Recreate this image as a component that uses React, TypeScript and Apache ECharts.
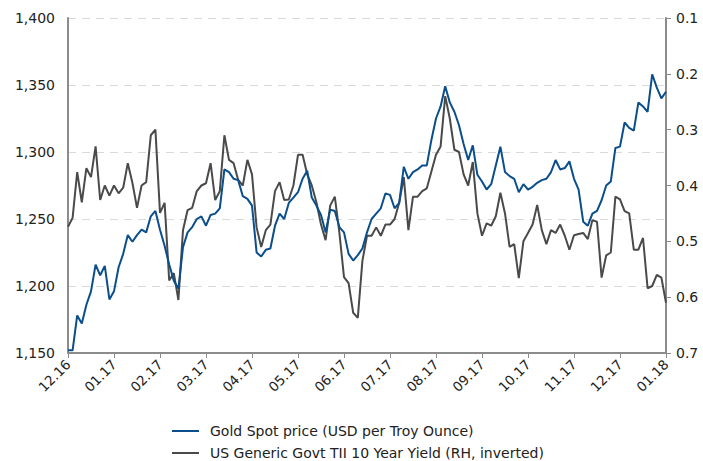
import React, { useEffect, useRef } from "react";
import * as echarts from "echarts";

const tickLabels = ["12.16", "01.17", "02.17", "03.17", "04.17", "05.17", "06.17", "07.17", "08.17", "09.17", "10.17", "11.17", "12.17", "01.18"];
const pointsPerMonth = 10;

const goldSeries = [
  1152, 1152, 1178, 1172, 1186, 1196, 1216, 1208, 1215, 1190,
  1196, 1214, 1224, 1238, 1233, 1238, 1242, 1240, 1252, 1256,
  1242, 1230, 1216, 1204, 1198, 1229, 1240, 1244, 1250, 1252,
  1245, 1253, 1254, 1258, 1287, 1285, 1280, 1279, 1267, 1265,
  1260, 1225, 1222, 1227, 1228, 1245, 1254, 1250, 1262, 1266,
  1270, 1280, 1286, 1266, 1260, 1253, 1240, 1257, 1256, 1244,
  1240, 1224, 1219, 1223, 1228, 1240, 1250, 1254, 1258, 1269,
  1268, 1258, 1262, 1289, 1280, 1285, 1287, 1290, 1290, 1309,
  1325, 1334, 1349, 1337, 1330, 1320, 1306, 1294, 1305, 1283,
  1278, 1272, 1276, 1290, 1304, 1285, 1282, 1280, 1270, 1276,
  1272, 1274, 1277, 1279, 1280, 1285, 1294, 1287, 1288, 1293,
  1280, 1272, 1248, 1245, 1254, 1256, 1264, 1275, 1278, 1303,
  1304, 1322, 1318, 1316, 1337, 1334, 1330, 1358, 1348, 1340,
  1345,
];

const yieldSeries = [
  0.474, 0.458, 0.376, 0.43, 0.369, 0.385, 0.33, 0.426, 0.4, 0.418,
  0.4, 0.414, 0.404, 0.36, 0.395, 0.44, 0.4, 0.394, 0.31, 0.3,
  0.449, 0.431, 0.57, 0.557, 0.605, 0.48, 0.444, 0.44, 0.41, 0.4,
  0.396, 0.36, 0.426, 0.41, 0.31, 0.354, 0.36, 0.39, 0.4, 0.354,
  0.38, 0.475, 0.51, 0.48, 0.47, 0.41, 0.394, 0.426, 0.425, 0.4,
  0.345, 0.345, 0.38, 0.4, 0.43, 0.47, 0.498, 0.436, 0.42, 0.485,
  0.564, 0.575, 0.628, 0.637, 0.535, 0.49, 0.49, 0.475, 0.49, 0.47,
  0.47, 0.46, 0.431, 0.385, 0.48, 0.42, 0.42, 0.41, 0.405, 0.375,
  0.345, 0.33, 0.24, 0.28, 0.336, 0.34, 0.38, 0.4, 0.358, 0.45,
  0.49, 0.468, 0.472, 0.455, 0.413, 0.45, 0.51, 0.505, 0.566, 0.5,
  0.485, 0.47, 0.435, 0.48, 0.505, 0.48, 0.485, 0.47, 0.49, 0.515,
  0.489, 0.487, 0.485, 0.496, 0.462, 0.465, 0.565, 0.525, 0.52, 0.42,
  0.425, 0.446, 0.45, 0.515, 0.515, 0.494, 0.584, 0.58, 0.56, 0.565,
  0.61,
];

const seriesNames = ["Gold Spot price (USD per Troy Ounce)", "US Generic Govt TII 10 Year Yield (RH, inverted)"];

const categories = goldSeries.map((_, i) => String(i));

const FONT = "DejaVu Sans";
const AXIS_COLOR = "#8c8c8c";
const TEXT_COLOR = "#222";
const GOLD_COLOR = "#0a4e8c";
const YIELD_COLOR = "#4a4a4a";

export default function App() {
  const ref = useRef<HTMLDivElement>(null);
  useEffect(() => {
    if (!ref.current) return;
    const chart = echarts.init(ref.current, undefined, { renderer: "svg" });
    const isTick = (index: number) => index % pointsPerMonth === 0;
    const legendBase = {
      orient: "horizontal",
      left: 172,
      itemWidth: 27,
      itemHeight: 14,
      padding: 0,
      textStyle: { fontFamily: FONT, fontSize: 14, color: TEXT_COLOR, padding: [0, 0, 0, 6] },
    };
    chart.setOption({
      animation: false,
      textStyle: { fontFamily: FONT },
      grid: { left: 68, right: 37, top: 18, bottom: 108, containLabel: false },
      legend: [
        { ...legendBase, top: 424, data: [{ name: seriesNames[0], icon: "path://M0,6 L27,6 L27,8 L0,8 Z" }] },
        { ...legendBase, top: 446, data: [{ name: seriesNames[1], icon: "path://M0,6 L27,6 L27,8 L0,8 Z" }] },
      ],
      xAxis: {
        type: "category",
        data: categories,
        boundaryGap: false,
        axisLine: { show: true, lineStyle: { color: AXIS_COLOR, width: 2 } },
        axisTick: { show: true, interval: isTick, length: 5, lineStyle: { color: AXIS_COLOR, width: 1 } },
        axisLabel: {
          interval: isTick,
          rotate: 45,
          margin: 9,
          fontFamily: FONT,
          fontSize: 13.5,
          color: TEXT_COLOR,
          formatter: (_v: string, idx: number) => tickLabels[Math.round(idx / pointsPerMonth)] ?? "",
        },
        splitLine: { show: false },
      },
      yAxis: [
        {
          type: "value",
          min: 1150,
          max: 1400,
          interval: 50,
          position: "left",
          axisLine: { show: true, lineStyle: { color: AXIS_COLOR, width: 2 } },
          axisTick: { show: false },
          axisLabel: {
            margin: 13,
            fontFamily: FONT,
            fontSize: 14,
            color: TEXT_COLOR,
            formatter: (v: number) => v.toLocaleString("en-US"),
          },
          splitLine: { show: true, lineStyle: { color: "#d9d9d9", type: [8, 6], width: 1 } },
        },
        {
          type: "value",
          min: 0.1,
          max: 0.7,
          interval: 0.1,
          inverse: true,
          position: "right",
          axisLine: { show: true, lineStyle: { color: AXIS_COLOR, width: 2 } },
          axisTick: { show: true, length: 5, lineStyle: { color: AXIS_COLOR, width: 1 } },
          axisLabel: {
            margin: 10,
            fontFamily: FONT,
            fontSize: 14,
            color: TEXT_COLOR,
            formatter: (v: number) => v.toFixed(1),
          },
          splitLine: { show: false },
        },
      ],
      series: [
        {
          name: seriesNames[1],
          type: "line",
          yAxisIndex: 1,
          data: yieldSeries,
          symbol: "none",
          lineStyle: { color: YIELD_COLOR, width: 2 },
          itemStyle: { color: YIELD_COLOR },
          z: 2,
        },
        {
          name: seriesNames[0],
          type: "line",
          yAxisIndex: 0,
          data: goldSeries,
          symbol: "none",
          lineStyle: { color: GOLD_COLOR, width: 2 },
          itemStyle: { color: GOLD_COLOR },
          z: 3,
        },
      ],
    });
    return () => chart.dispose();
  }, []);
  return <div ref={ref} style={{ width: 703, height: 461, position: "absolute", left: 0, top: 0 }} />;
}
